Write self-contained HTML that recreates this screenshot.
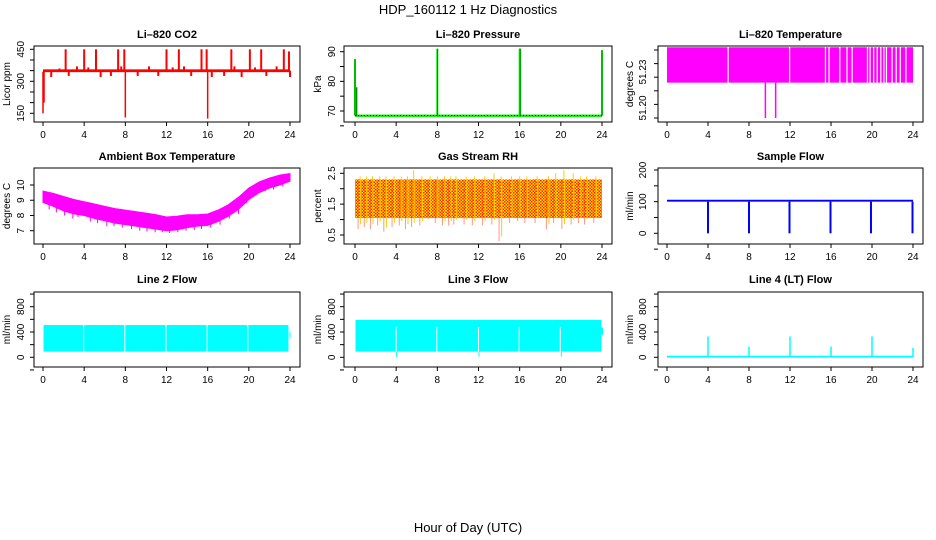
<!DOCTYPE html>
<html><head><meta charset="utf-8"><style>
body{margin:0;background:#fff}
svg{display:block;font-family:"Liberation Sans",Arial,sans-serif}
</style></head><body>
<svg id="c" width="936" height="540" viewBox="0 0 936 540">
<defs>
<pattern id="rhpat" width="3" height="3" patternUnits="userSpaceOnUse">
<rect width="3" height="3" fill="#ffee00"/><rect x="0" y="0" width="1.5" height="1.5" fill="#ff2000"/><rect x="1.5" y="1.5" width="1.5" height="1.5" fill="#ff2000"/>
</pattern>
</defs>
<text x="468" y="14" font-size="13" text-anchor="middle">HDP_160112  1 Hz Diagnostics</text>
<text x="468" y="532" font-size="13" text-anchor="middle">Hour of Day (UTC)</text>
</svg>
<script>
// ---- data ----
const hourTicks = [0, 4, 8, 12, 16, 20, 24];
const co2Base = [343, 356];
const co2SpikeHours = [2.2, 4.0, 5.15, 7.3, 7.9, 12.0, 13.2, 15.4, 15.9, 18.3, 20.1, 21.2, 23.4, 23.9];
const co2SpikeVals = [450, 450, 450, 450, 450, 450, 450, 450, 450, 450, 450, 450, 450, 440];
const co2SmallHours = [0.8, 1.6, 2.5, 3.3, 4.4, 5.6, 6.6, 7.6, 9.2, 10.3, 11.2, 12.6, 13.7, 14.4, 16.4, 17.6, 18.6, 19.3, 20.6, 21.7, 22.7, 24.0];
const co2SmallVals = [320, 360, 325, 370, 365, 320, 325, 370, 325, 370, 325, 365, 370, 325, 320, 325, 370, 320, 365, 325, 370, 320];
const co2DipHours = [0.0, 0.1, 8.0, 16.0];
const co2DipVals = [150, 200, 130, 125];
const presBase = 68.5;
const presSpikeHours = [0.0, 0.15, 8.0, 16.0, 16.05, 24.0];
const presSpikeVals = [87.5, 78, 91, 91, 91, 90.5];
const tempBlockTop = 51.252;
const tempBlockBottom = 51.226;
const tempGapHours = [5.9, 11.9, 15.4, 15.75, 16.8, 17.5, 18.0, 19.5, 19.75, 20.1, 20.45, 20.8, 21.1, 21.35, 21.9, 22.3, 22.7, 23.25];
const tempDipHours = [9.6, 10.6];
const tempDipVals = [51.20, 51.20];
const ambHours = [0,1,2,3,4,5,6,7,8,9,10,11,12,13,14,15,16,17,18,19,20,21,22,23,24];
const ambUpper = [9.6,9.45,9.25,9.05,8.9,8.75,8.6,8.45,8.35,8.25,8.15,8.05,7.9,7.95,8.05,8.05,8.1,8.35,8.7,9.2,9.8,10.2,10.45,10.65,10.75];
const ambLower = [8.85,8.6,8.3,8.1,8.0,7.8,7.65,7.5,7.4,7.3,7.2,7.1,7.0,7.05,7.2,7.3,7.35,7.6,7.95,8.4,9.05,9.5,9.8,10.0,10.25];
const ambSpikeHours = [0.6,1.3,2.1,2.9,3.4,4.6,5.3,6.2,6.9,7.7,8.6,9.4,10.1,10.9,11.6,12.3,13.1,13.9,14.7,15.4,16.3,17.2,18.1,19.0,19.8,20.7,21.6,22.4,23.3];
const ambSpikeLow = [8.4,8.2,8.0,7.8,7.9,7.6,7.5,7.3,7.3,7.2,7.1,7.0,6.95,6.9,6.9,6.85,6.9,7.0,7.05,7.1,7.2,7.4,7.8,8.1,8.8,9.3,9.6,9.7,9.9];
const rhTop = 2.3;
const rhBottom = 1.05;
const rhSpikeHours = [0.3,0.9,1.5,2.2,2.8,3.6,4.3,4.9,5.5,6.3,7.1,7.8,8.5,9.1,9.6,10.6,11.4,12.4,13.3,14.0,15.0,15.8,16.5,17.5,18.6,19.3,20.1,21.0,21.7,22.3,23.2];
const rhSpikeLow = [0.7,0.75,0.7,0.8,0.6,0.75,0.8,0.7,0.75,0.8,1.0,0.9,0.8,0.8,0.85,0.85,0.8,0.8,0.85,0.3,0.9,0.95,0.9,0.9,0.7,0.9,0.7,0.85,0.9,0.85,0.9];
const rhSpikeHigh = [2.4,2.4,2.4,2.4,2.4,2.4,2.4,2.4,2.6,2.4,2.4,2.4,2.4,2.4,2.4,2.4,2.4,2.4,2.5,2.4,2.4,2.4,2.4,2.4,2.4,2.5,2.6,2.5,2.4,2.4,2.4];
const sampleBase = [100, 106];
const sampleDipHours = [4.0, 8.0, 11.95, 15.95, 19.9, 23.95];
const sampleDipVals = [0, 0, 0, 0, 0, 0];
const line2Band = [90, 510];
const line2GapHours = [3.9, 7.9, 11.9, 15.9, 19.85, 23.85];
const line3Band = [90, 590];
const line3GapHours = [3.95, 7.9, 11.95, 15.9, 19.9];
const line3DipHours = [4.05, 12.05, 20.05];
const line3DipVals = [0, 10, 10];
const line4Base = 10;
const line4SpikeHours = [4.0, 8.0, 12.0, 16.0, 20.0, 24.0];
const line4SpikeVals = [330, 170, 330, 170, 330, 150];

// ---- helpers ----
const svg = document.getElementById('c');
const NS = 'http://www.w3.org/2000/svg';
function mk(tag, attrs, parent) {
  const e = document.createElementNS(NS, tag);
  for (const k in attrs) e.setAttribute(k, attrs[k]);
  (parent || svg).appendChild(e);
  return e;
}
const cols = [{l:34,r:300,x0:43,x24:290,yl:24,yt:10},{l:344,r:612,x0:355,x24:602,yl:335,yt:321},{l:658,r:923,x0:667,x24:913,yl:646,yt:633}];
const rows = [{t:46,b:122,ty:38},{t:168,b:244,ty:160},{t:292,b:367,ty:283}];
function panel(ci, ri, title, ytitle, v1, p1, v2, p2, ticks, labels, name) {
  const c = cols[ci], r = rows[ri];
  const g = mk('g', {});
  
  
  const X = h => c.x0 + (h / 24) * (c.x24 - c.x0);
  const Y = v => p1 + (v - v1) * (p2 - p1) / (v2 - v1);
  const clip = mk('clipPath', {id: 'clip' + name}, g);
  mk('rect', {x: c.l, y: r.t, width: c.r - c.l, height: r.b - r.t}, clip);
  const data = mk('g', {'clip-path': 'url(#clip' + name + ')'}, g);
  
  
  const box = mk('rect', {x: c.l, y: r.t, width: c.r - c.l, height: r.b - r.t, fill: 'none', stroke: '#000', 'stroke-width': 1}, g);
  
  
  const t = mk('text', {x: (c.l + c.r) / 2, y: r.ty, 'font-size': 11, 'font-weight': 'bold', 'text-anchor': 'middle'}, g);
  t.textContent = title;
  
  
  const xa = mk('g', {}, g);
  
  
  hourTicks.forEach(h => {
    mk('line', {x1: X(h), x2: X(h), y1: r.b, y2: r.b + 4, stroke: '#000'}, xa);
    const tl = mk('text', {x: X(h), y: r.b + 16, 'font-size': 10, 'text-anchor': 'middle'}, xa);
    tl.textContent = h;
  });
  const ya = mk('g', {}, g);
  
  
  ticks.forEach(v => {
    mk('line', {x1: c.l - 4, x2: c.l, y1: Y(v), y2: Y(v), stroke: '#000'}, ya);
  });
  labels.forEach(lb => {
    const tl = mk('text', {x: c.yl, y: Y(lb.v), 'font-size': 10, 'text-anchor': 'middle', transform: 'rotate(-90 ' + c.yl + ' ' + Y(lb.v) + ')'}, ya);
    tl.textContent = lb.t;
  });
  const yt = mk('text', {x: c.yt, y: (r.t + r.b) / 2, 'font-size': 10, 'text-anchor': 'middle', transform: 'rotate(-90 ' + c.yt + ' ' + (r.t + r.b) / 2 + ')'}, g);
  yt.textContent = ytitle;
  
  
  return {X, Y, g: data};
}
function vline(p, h, a, b, col, w, nm) {
  const e = mk('line', {x1: p.X(h), x2: p.X(h), y1: p.Y(a), y2: p.Y(b), stroke: col, 'stroke-width': w || 1}, p.g);
  
  
  return e;
}
function band(p, h1, h2, a, b, fill, nm) {
  const e = mk('rect', {x: p.X(h1), y: p.Y(b), width: p.X(h2) - p.X(h1), height: p.Y(a) - p.Y(b), fill: fill}, p.g);
  
  
  return e;
}
function seq(a, b, s) { const o = []; for (let v = a; v <= b + 1e-9; v += s) o.push(+v.toFixed(4)); return o; }
function interp(xs, ys, x) { for (let i = 1; i < xs.length; i++) if (x <= xs[i]) return ys[i-1] + (ys[i]-ys[i-1]) * (x - xs[i-1]) / (xs[i] - xs[i-1]); return ys[ys.length-1]; }

// CO2
let p = panel(0, 0, 'Li\u2013820 CO2', 'Licor ppm', 450, 49.3, 150, 113.3, seq(150, 450, 50), [{v:150,t:'150'},{v:300,t:'300'},{v:450,t:'450'}], 'co2');
co2SmallHours.forEach((h, i) => vline(p, h, 350, co2SmallVals[i], '#ff0000', 2, 'co2-small-spike'));
co2SpikeHours.forEach((h, i) => vline(p, h, 345, co2SpikeVals[i], '#ff0000', 2, 'co2-spike'));
co2DipHours.forEach((h, i) => vline(p, h, 345, co2DipVals[i], '#ff0000', 1.5, 'co2-dip'));
band(p, 0, 24, co2Base[0], co2Base[1], '#ff0000', 'co2-baseline');

// Pressure
p = panel(1, 0, 'Li\u2013820 Pressure', 'kPa', 90, 51.7, 70, 111, seq(65, 90, 5), [{v:70,t:'70'},{v:80,t:'80'},{v:90,t:'90'}], 'pressure');
band(p, 0, 24, presBase - 0.5, presBase + 0.3, '#00ee00', 'pressure-baseline');
presSpikeHours.forEach((h, i) => { vline(p, h, presBase, presSpikeVals[i], '#00ee00', 2, 'pressure-spike'); vline(p, h, presBase, presSpikeVals[i], '#000', 0.8, 'pressure-spike-dotted').setAttribute('stroke-dasharray', '1 1'); });
mk('line', {x1: p.X(0), x2: p.X(24), y1: p.Y(presBase), y2: p.Y(presBase), stroke: '#000', 'stroke-dasharray': '1 2', 'stroke-width': 0.8}, p.g);

// Li-820 Temperature
p = panel(2, 0, 'Li\u2013820 Temperature', 'degrees C', 51.25, 50, 51.20, 118, seq(51.20, 51.25, 0.01), [{v:51.2074,t:'51.20'},{v:51.2338,t:'51.23'}], 'li820-temp');
band(p, 0, 24, tempBlockBottom, tempBlockTop, '#ff00ff', 'temp-block');
tempGapHours.forEach(h => { band(p, h, h + 0.12, tempBlockBottom - 0.001, tempBlockTop + 0.001, '#ffffff', 'temp-gap'); });
tempDipHours.forEach((h, i) => vline(p, h, tempBlockBottom, tempDipVals[i], '#ff00ff', 1.5, 'temp-dip'));

// Ambient
p = panel(0, 1, 'Ambient Box Temperature', 'degrees C', 10, 185, 7, 230.7, seq(7, 10, 1), [{v:7,t:'7'},{v:8,t:'8'},{v:9,t:'9'},{v:10,t:'10'}], 'ambient');
{
  let d = ambHours.map((h, i) => (i ? 'L' : 'M') + p.X(h) + ' ' + p.Y(ambUpper[i])).join(' ');
  for (let i = ambHours.length - 1; i >= 0; i--) d += ' L' + p.X(ambHours[i]) + ' ' + p.Y(ambLower[i]);
  const e = mk('path', {d: d + 'Z', fill: '#ff00ff', stroke: '#ff00ff', 'stroke-width': 1}, p.g);
  
  
  ambSpikeHours.forEach((h, i) => vline(p, h, interp(ambHours, ambLower, h) + 0.1, ambSpikeLow[i], '#ff00ff', 1, 'ambient-spike'));
}

// RH
p = panel(1, 1, 'Gas Stream RH', 'percent', 2.5, 173.3, 0.5, 235, [0.5, 1, 1.5, 2, 2.5], [{v:0.5,t:'0.5'},{v:1.5,t:'1.5'},{v:2.5,t:'2.5'}], 'rh');
band(p, 0, 24, rhBottom, rhTop, 'url(#rhpat)', 'rh-band');
rhSpikeHours.forEach((h, i) => { vline(p, h, rhTop, rhSpikeLow[i], '#ff3000', 1, 'rh-spike-low').setAttribute('stroke-dasharray', '1 1'); vline(p, h + 0.25, rhTop, rhSpikeLow[i] + 0.15, '#ffcc00', 1, 'rh-spike-yellow'); vline(p, h + 0.2, rhTop, rhSpikeHigh[i], '#ffcc00', 1, 'rh-spike-high'); });

// Sample flow
p = panel(2, 1, 'Sample Flow', 'ml/min', 200, 170, 0, 233.3, seq(-50, 200, 50), [{v:0,t:'0'},{v:100,t:'100'},{v:200,t:'200'}], 'sample-flow');
band(p, 0, 24, sampleBase[0], sampleBase[1], '#0000ff', 'sample-baseline');
sampleDipHours.forEach((h, i) => vline(p, h, sampleBase[0], sampleDipVals[i], '#0000ff', 2, 'sample-dip'));

// Line 2
const flowTicks = seq(-200, 1000, 200);
const flowLabels = [{v:0,t:'0'},{v:400,t:'400'},{v:800,t:'800'}];
p = panel(0, 2, 'Line 2 Flow', 'ml/min', 800, 306.7, 0, 357.3, flowTicks, flowLabels, 'line2');
band(p, 0.05, 23.85, line2Band[0], line2Band[1], '#00ffff', 'line2-band');
line2GapHours.forEach(h => band(p, h, h + 0.1, line2Band[0], line2Band[1] + 5, '#ffffff', 'line2-gap'));
band(p, 23.95, 24.05, 300, 400, '#00ffff', 'line2-tail');

// Line 3
p = panel(1, 2, 'Line 3 Flow', 'ml/min', 800, 306.7, 0, 357.3, flowTicks, flowLabels, 'line3');
band(p, 0.05, 23.95, line3Band[0], line3Band[1], '#00ffff', 'line3-band');
line3GapHours.forEach(h => band(p, h, h + 0.1, line3Band[0], 480, '#ffffff', 'line3-gap'));
line3DipHours.forEach((h, i) => vline(p, h, line3Band[0], line3DipVals[i], '#00ffff', 1, 'line3-dip'));
band(p, 23.95, 24.1, 360, 470, '#00ffff', 'line3-tail');

// Line 4
p = panel(2, 2, 'Line 4 (LT) Flow', 'ml/min', 800, 306.7, 0, 357.3, flowTicks, flowLabels, 'line4');
band(p, 0, 24, line4Base - 15, line4Base + 15, '#00ffff', 'line4-baseline');
line4SpikeHours.forEach((h, i) => vline(p, h, line4Base, line4SpikeVals[i], '#00ffff', 1.5, 'line4-spike'));
</script>
</body></html>
